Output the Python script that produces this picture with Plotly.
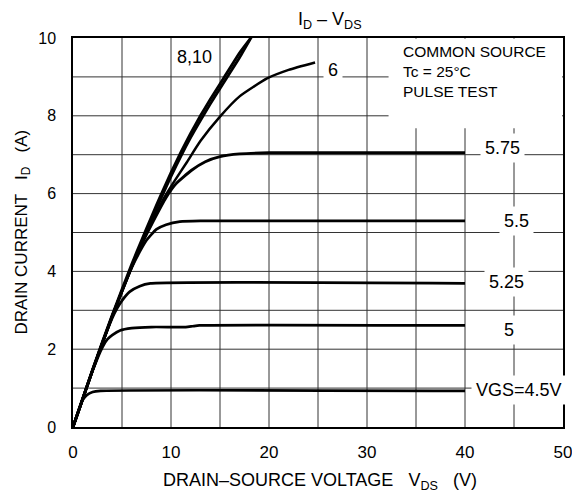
import plotly.graph_objects as go

# ---- data ----
v_10 = [0, 1, 2, 3, 4, 5, 6, 7, 8, 9, 10, 11, 12, 13, 14, 15, 16, 17, 18.3]
i_10 = [0, 0.74, 1.48, 2.19, 2.88, 3.54, 4.19, 4.8, 5.4, 5.98, 6.54, 7.06, 7.55, 8.0, 8.42, 8.82, 9.22, 9.62, 10.05]
v_8 = [0, 1, 2, 3, 4, 5, 6, 7, 8, 9, 10, 11, 12, 13, 14, 15, 16, 17, 18.1]
i_8 = [0, 0.73, 1.46, 2.16, 2.84, 3.49, 4.13, 4.73, 5.32, 5.89, 6.44, 6.96, 7.44, 7.88, 8.3, 8.7, 9.1, 9.5, 9.98]
v_6 = [0, 2, 4, 6, 7, 8, 9.2, 10.3, 11.6, 13, 15, 17, 19.8, 22, 24.7]
i_6 = [0, 1.46, 2.85, 4.12, 4.7, 5.22, 5.85, 6.3, 6.8, 7.35, 7.98, 8.5, 8.96, 9.18, 9.37]
v_575 = [0, 2, 4, 6, 7, 8, 9.5, 10.5, 12.1, 13.5, 15, 17, 20, 40]
i_575 = [0, 1.46, 2.85, 4.12, 4.7, 5.2, 5.9, 6.25, 6.6, 6.82, 6.95, 7.02, 7.05, 7.05]
v_55 = [0, 2, 4, 5, 6, 6.8, 7.5, 8.5, 9.5, 10.9, 13, 40]
i_55 = [0, 1.46, 2.85, 3.5, 4.1, 4.5, 4.8, 5.08, 5.2, 5.28, 5.3, 5.3]
v_525 = [0, 1, 2, 3, 4, 4.5, 5, 5.8, 6.8, 7.9, 40]
i_525 = [0, 0.73, 1.46, 2.16, 2.8, 3.05, 3.25, 3.48, 3.62, 3.69, 3.69]
v_5 = [0, 1, 2, 3, 3.5, 4, 4.8, 6, 8, 11.5, 12.2, 12.9, 40]
i_5 = [0, 0.73, 1.45, 2.05, 2.25, 2.36, 2.48, 2.54, 2.57, 2.57, 2.59, 2.61, 2.61]
v_45 = [0, 0.5, 1.0, 1.4, 2.0, 2.8, 40]
i_45 = [0, 0.36, 0.7, 0.82, 0.9, 0.93, 0.93]

curve_labels = ["8,10", "6", "5.75", "5.5", "5.25", "5", "VGS=4.5V"]
label_v = [12.4, 26.5, 43.8, 45.3, 44.2, 44.5, 45.5]
label_i = [9.52, 9.18, 7.18, 5.3, 3.73, 2.49, 0.95]

x_ticks = [0, 10, 20, 30, 40, 50]
y_ticks = [0, 2, 4, 6, 8, 10]
grid_v = [5, 10, 15, 20, 25, 30, 35, 40, 45]
grid_i = [1, 2, 3, 4, 5, 6, 7, 8, 9]

FONT = "Liberation Sans, Arial, sans-serif"

fig = go.Figure()
series = [(v_45, i_45, 2.7), (v_5, i_5, 2.7), (v_525, i_525, 2.7), (v_55, i_55, 2.7),
          (v_575, i_575, 2.9), (v_6, i_6, 2.5), (v_8, i_8, 2.8), (v_10, i_10, 2.8)]
for vx, iy, w in series:
    fig.add_trace(go.Scatter(x=vx, y=iy, mode="lines",
                             line=dict(color="black", width=w, shape="spline", smoothing=0.5),
                             showlegend=False, hoverinfo="skip"))

for gv in grid_v:
    fig.add_shape(type="line", xref="x", yref="y", x0=gv, x1=gv, y0=0, y1=10,
                  line=dict(color="#333", width=1), layer="below")
for gi in grid_i:
    fig.add_shape(type="line", xref="x", yref="y", x0=0, x1=50, y0=gi, y1=gi,
                  line=dict(color="#333", width=1), layer="below")

# white box behind the conditions note
fig.add_shape(type="rect", xref="x", yref="y", x0=32.2, x1=49.9, y0=7.68, y1=9.98,
              fillcolor="white", line=dict(width=0), layer="between")

for t, vx, iy in zip(curve_labels, label_v, label_i):
    fig.add_annotation(x=vx, y=iy, text=t, showarrow=False, xref="x", yref="y",
                       font=dict(family=FONT, size=18, color="black"),
                       bgcolor="white" if t != "8,10" else "rgba(0,0,0,0)", borderpad=4)

fig.add_annotation(x=33.5, y=9.93, xref="x", yref="y", xanchor="left", yanchor="top",
                   text="COMMON SOURCE<br>Tc = 25°C<br>PULSE TEST", align="left", showarrow=False,
                   font=dict(family=FONT, size=15.5, color="black"))

fig.add_annotation(x=-0.104, y=0.5, xref="paper", yref="paper", textangle=-90,
                   xanchor="center", yanchor="middle",
                   text="DRAIN CURRENT   I<sub>D</sub>   (A)", showarrow=False,
                   font=dict(family=FONT, size=17, color="black"))
fig.add_annotation(x=0.505, y=-0.141, xref="paper", yref="paper",
                   xanchor="center", yanchor="middle",
                   text="DRAIN–SOURCE VOLTAGE   V<sub>DS</sub>   (V)", showarrow=False,
                   font=dict(family=FONT, size=18, color="black"))

# page body has an 8px margin, so the figure is drawn 8px in from the window's corner
fig.update_layout(
    width=572, height=493,
    margin=dict(l=65, r=17, t=30, b=74, autoexpand=False),
    paper_bgcolor="white", plot_bgcolor="white",
    title=dict(text="I<sub>D</sub> – V<sub>DS</sub>", x=0.524, xref="paper", y=0.978, yanchor="middle",
               xanchor="center", font=dict(family=FONT, size=18, color="black")),
    font=dict(family=FONT, color="black"),
)
fig.update_xaxes(range=[0, 50], tickvals=x_ticks, ticktext=[str(v) for v in x_ticks],
                 showgrid=False,
                 showline=True, linecolor="black", linewidth=1.5, mirror=True,
                 ticks="", ticklabelstandoff=9, tickfont=dict(family=FONT, size=17),
                 zeroline=False)
fig.update_yaxes(range=[0, 10], tickvals=y_ticks, ticktext=[str(v) for v in y_ticks],
                 showgrid=False,
                 showline=True, linecolor="black", linewidth=1.5, mirror=True,
                 ticks="", ticklabelstandoff=12, tickfont=dict(family=FONT, size=16),
                 zeroline=False)

fig.write_html("out.html")
